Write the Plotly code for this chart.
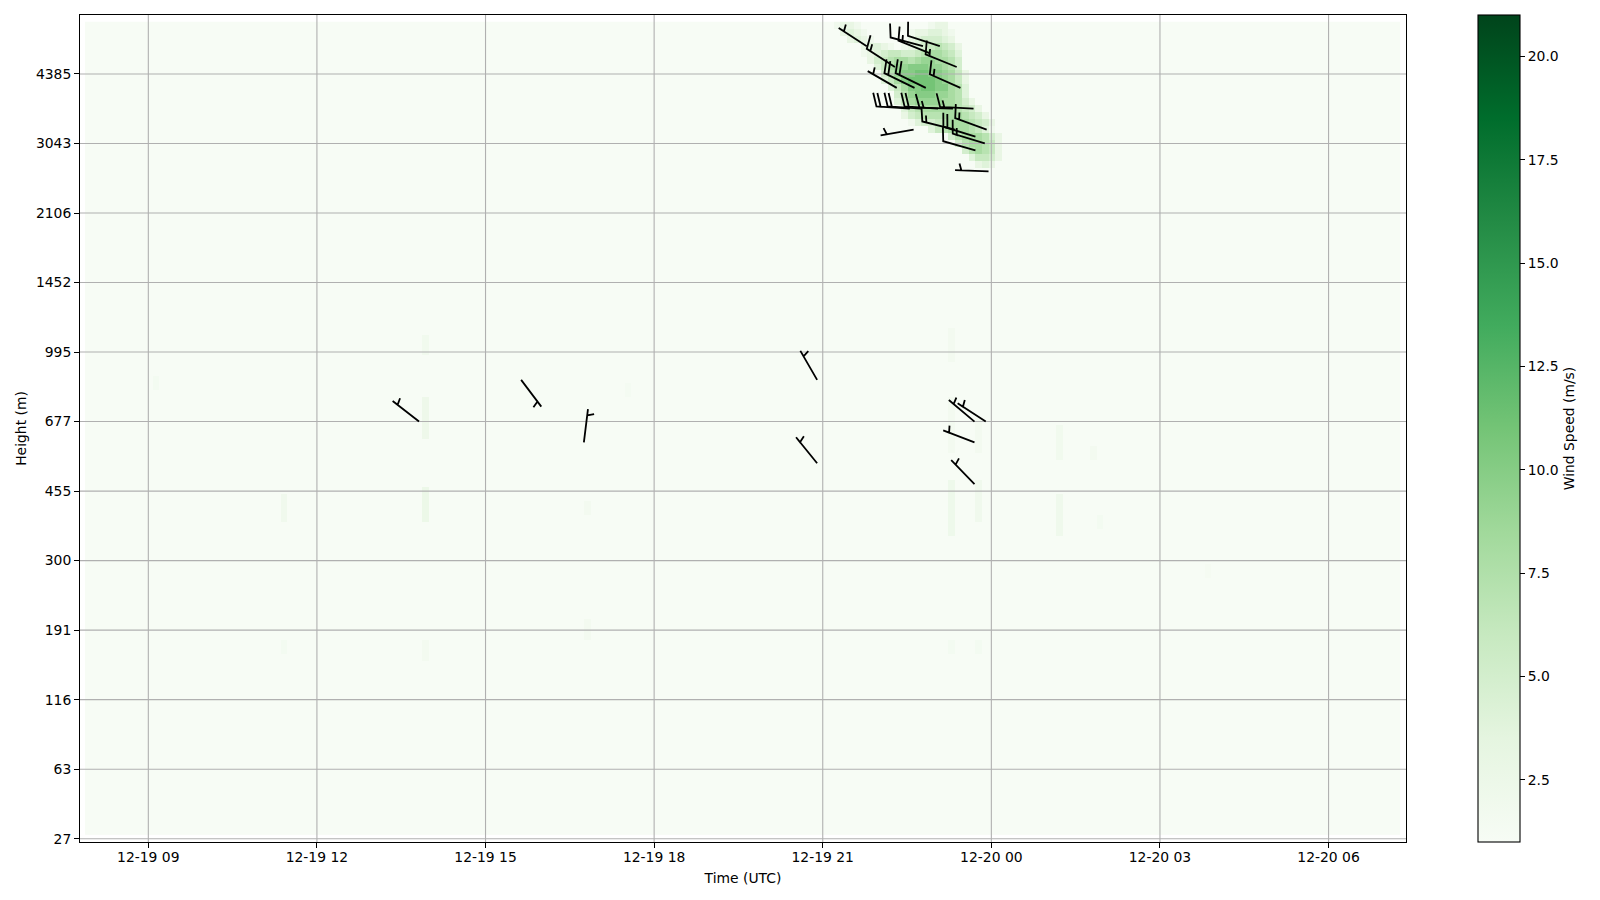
import math
import numpy as np
import pandas as pd
import plotly.graph_objects as go

# ---------------- data ----------------
HEIGHT_TICK_LEVELS = [0, 10, 20, 30, 40, 50, 60, 70, 80, 90, 100, 110]
HEIGHT_TICK_LABELS = ["27", "63", "116", "191", "300", "455", "677", "995",
                      "1452", "2106", "3043", "4385"]
N_LEVELS = 117                      # heatmap rows at levels 1..117
TIME_FIRST = "2023-12-19 07:56:06"  # centre of first heatmap column
TIME_STEP_S = 432                   # 7.2 min columns
N_TIMES = 195

# wind-speed patches: (level, first column, values m/s)
BLOB_ROWS = [
    (117, 111, [2, 3, 3, 2]), (117, 125, [2, 3, 3]),
    (116, 112, [3, 4, 3, 2]), (116, 122, [2, 3, 3, 4, 4, 3, 2]),
    (115, 113, [3, 4, 3, 2]), (115, 122, [3, 4, 5, 5, 5, 4, 3]),
    (114, 115, [3, 4, 4, 3, 2, 0, 2, 3, 4, 5, 6, 7, 6, 5, 3]),
    (113, 115, [2, 3, 4, 5, 6, 6, 5, 5, 6, 7, 8, 8, 7, 6, 4]),
    (112, 116, [3, 5, 6, 7, 8, 8, 7, 8, 9, 9, 8, 8, 7, 5]),
    (111, 117, [4, 6, 8, 9, 9, 10, 10, 10, 9, 9, 8, 7, 5]),
    (110, 118, [5, 7, 9, 10, 10, 11, 11, 10, 10, 9, 8, 6, 3]),
    (109, 118, [4, 6, 8, 10, 11, 11, 11, 11, 10, 9, 8, 6, 3]),
    (108, 119, [4, 6, 8, 10, 10, 11, 11, 10, 10, 8, 7, 4]),
    (107, 120, [5, 7, 9, 10, 10, 10, 9, 9, 8, 7, 4]),
    (106, 120, [4, 6, 8, 9, 9, 9, 9, 8, 8, 7, 5, 3]),
    (105, 121, [4, 6, 7, 8, 8, 8, 8, 8, 7, 6, 5, 3]),
    (104, 121, [3, 5, 6, 7, 7, 7, 8, 8, 8, 7, 6, 5, 3]),
    (103, 122, [2, 4, 5, 5, 6, 7, 8, 8, 8, 7, 6, 5, 3]),
    (102, 125, [4, 6, 7, 8, 8, 8, 7, 6, 4, 2]),
    (101, 128, [5, 7, 8, 8, 8, 7, 5, 3]),
    (100, 129, [5, 7, 8, 8, 7, 6, 3]),
    (99, 130, [5, 7, 8, 7, 6, 3]),
    (98, 131, [4, 6, 6, 5, 3]),
    (97, 132, [3, 4, 3]),
]
# faint vertical streaks: (column, lowest level, highest level, m/s)
STREAKS = [
    (50, 70, 72, 1.8), (50, 58, 63, 2.3), (50, 46, 50, 2.5), (50, 26, 28, 1.6),
    (29, 46, 49, 2.0), (29, 27, 28, 1.5),
    (74, 47, 48, 1.6), (74, 29, 31, 1.6),
    (128, 69, 73, 1.6), (128, 56, 63, 1.6), (128, 44, 51, 2.2), (128, 27, 28, 1.5),
    (132, 56, 60, 1.6), (132, 46, 51, 2.0), (132, 27, 28, 1.5),
    (144, 55, 59, 1.8), (144, 44, 49, 2.1),
    (149, 55, 56, 1.6), (150, 45, 46, 1.5), (10, 65, 66, 1.5), (80, 64, 65, 1.4),
    (166, 38, 39, 1.3),
]

# wind barbs: time, level, direction wind blows from (deg), speed (kt)
BARB_TIMES = [
    "2023-12-19 13:49", "2023-12-19 15:38", "2023-12-19 16:45",
    "2023-12-19 20:54", "2023-12-19 20:54", "2023-12-19 23:42",
    "2023-12-19 23:54", "2023-12-19 23:42", "2023-12-19 23:42",
    "2023-12-19 21:47", "2023-12-19 22:17", "2023-12-19 22:47",
    "2023-12-19 23:05", "2023-12-19 22:54", "2023-12-19 23:23",
    "2023-12-19 22:19", "2023-12-19 22:38", "2023-12-19 22:50",
    "2023-12-19 23:27", "2023-12-19 22:33", "2023-12-19 22:45",
    "2023-12-19 23:03", "2023-12-19 23:19", "2023-12-19 23:41",
    "2023-12-19 23:21", "2023-12-19 23:55", "2023-12-19 23:43",
    "2023-12-19 23:53", "2023-12-19 22:37", "2023-12-19 23:57",
    "2023-12-19 23:43",
]
BARB_LEVELS = [60, 66, 57, 66, 54, 60, 60, 57, 51,
               114, 111, 114, 114, 113, 111, 108, 108, 108, 108,
               105, 105, 105, 105, 105, 102, 102, 101, 100, 102, 96, 99]
BARB_DIR = [308, 143, 7, 330, 321, 310, 303, 291, 316,
            303, 303, 285, 288, 292, 292, 300, 296, 296, 294,
            274, 274, 274, 272, 273, 284, 290, 287, 287, 260, 272, 286]
BARB_KT = [5, 5, 5, 5, 5, 5, 5, 5, 5,
           5, 15, 10, 10, 15, 15, 5, 20, 20, 15,
           20, 20, 20, 15, 15, 15, 15, 20, 15, 5, 5, 10]

COLORBAR_TICKS = [2.5, 5.0, 7.5, 10.0, 12.5, 15.0, 17.5, 20.0]
Z_MIN, Z_MAX = 1.0, 21.0

# ---------------- layout constants ----------------
PAGE_OFFSET = 8                      # default body margin of the html page
W, H = 1600 - PAGE_OFFSET, 900 - PAGE_OFFSET
ML, MR, MT, MB = 80 - PAGE_OFFSET, 194, 15 - PAGE_OFFSET, 58
X_RANGE = ["2023-12-19 07:47:04", "2023-12-20 07:22:40"]
Y_RANGE = [-0.475, 118.48]
FONT = dict(family="DejaVu Sans", size=13.9, color="black")
BARB_LEN_PX = 33.5

GREENS = [[0.0, "#f7fcf5"], [0.125, "#e5f5e0"], [0.25, "#c7e9c0"],
          [0.375, "#a1d99b"], [0.5, "#74c476"], [0.625, "#41ab5d"],
          [0.75, "#238b45"], [0.875, "#006d2c"], [1.0, "#00441b"]]

# ---------------- build grid ----------------
times = pd.date_range(TIME_FIRST, periods=N_TIMES, freq=pd.Timedelta(seconds=TIME_STEP_S))
levels = np.arange(1, N_LEVELS + 1)
z = np.zeros((N_LEVELS, N_TIMES))
for lvl, c0, vals in BLOB_ROWS:
    for i, v in enumerate(vals):
        if v > 0:
            z[lvl - 1, c0 + i] = v
for col, l0, l1, v in STREAKS:
    z[l0 - 1:l1, col] = np.maximum(z[l0 - 1:l1, col], v)

plot_w = W - ML - MR
plot_h = H - MT - MB

fig = go.Figure()
fig.add_trace(go.Heatmap(
    x=times, y=levels, z=z, colorscale=GREENS, zmin=Z_MIN, zmax=Z_MAX,
    zsmooth=False, hoverinfo="skip",
    colorbar=dict(
        x=(1478.3 - 80) / plot_w, xanchor="left", xpad=0,
        y=0.5, yanchor="middle", len=1, lenmode="fraction", ypad=0,
        thickness=42, thicknessmode="pixels",
        outlinewidth=1.1, outlinecolor="black",
        tickvals=COLORBAR_TICKS, ticktext=[f"{v:.1f}" for v in COLORBAR_TICKS],
        ticks="outside", ticklen=4.9, tickwidth=1.1, tickcolor="black",
        tickfont=FONT,
        title=dict(text="Wind Speed (m/s)", side="right", font=FONT),
    ),
))

# ---------------- grid lines (above the mesh) ----------------
x0, x1 = pd.Timestamp(X_RANGE[0]), pd.Timestamp(X_RANGE[1])
gx, gy = [], []
t = pd.Timestamp("2023-12-19 00:00")
while t <= x1:
    if t >= x0:
        gx += [t, t, None]
        gy += [Y_RANGE[0], Y_RANGE[1], None]
    t += pd.Timedelta(hours=3)
for lv in HEIGHT_TICK_LEVELS:
    gx += [x0, x1, None]
    gy += [lv, lv, None]
fig.add_trace(go.Scatter(x=gx, y=gy, mode="lines", hoverinfo="skip",
                         line=dict(color="#b0b0b0", width=1.1), showlegend=False))

# ---------------- wind barbs ----------------
px_per_sec = plot_w / (x1 - x0).total_seconds()
px_per_level = plot_h / (Y_RANGE[1] - Y_RANGE[0])


def barb_path(t, lvl, dir_deg, kt):
    d = math.radians(dir_deg)
    sx, sy = math.sin(d), math.cos(d)       # shaft toward wind origin (y up)
    bx, by = sy, -sx                         # feather side
    L = BARB_LEN_PX
    spacing, fw, bh = 0.125 * L, 0.25 * L, 0.4 * L
    s = 5 * round(kt / 5)
    n_barb = int(s // 10)
    half = (s % 10) >= 5
    pts = [(0.0, 0.0), (L, 0.0)]
    off = L
    for _ in range(n_barb):
        pts += [(off, 0.0), (off + fw / 2, bh), (off, 0.0)]
        off -= spacing
    if half:
        if off == L:
            off -= 1.5 * spacing
            pts.append((off, 0.0))
        pts += [(off, 0.0), (off + fw / 4, bh / 2), (off, 0.0)]
    out_x, out_y = [], []
    for a, b in pts:
        dx = a * sx + b * bx
        dy = a * sy + b * by
        out_x.append((t + pd.Timedelta(seconds=dx / px_per_sec)).to_pydatetime())
        out_y.append(lvl + dy / px_per_level)
    return out_x, out_y


bx_all, by_all = [], []
for ts, lv, dr, kt in zip(BARB_TIMES, BARB_LEVELS, BARB_DIR, BARB_KT):
    px, py = barb_path(pd.Timestamp(ts), lv, dr, kt)
    bx_all += px + [None]
    by_all += py + [None]
fig.add_trace(go.Scatter(x=bx_all, y=by_all, mode="lines", hoverinfo="skip",
                         line=dict(color="black", width=1.8), showlegend=False))

# ---------------- layout ----------------
axis_common = dict(showgrid=False, zeroline=False, showline=True, mirror=True,
                   linecolor="black", linewidth=1.1, ticks="outside",
                   ticklen=4.9, tickwidth=1.1, tickcolor="black", tickfont=FONT,
                   automargin=False)
fig.update_layout(
    width=W, height=H,
    margin=dict(l=ML, r=MR, t=MT, b=MB, autoexpand=False),
    paper_bgcolor="white", plot_bgcolor="white", font=FONT,
    showlegend=False,
    xaxis=dict(axis_common, type="date", range=X_RANGE,
               tick0="2023-12-19 00:00", dtick=3 * 3600 * 1000,
               tickformat="%m-%d %H", ticklabelstandoff=-3,
               title=dict(text="Time (UTC)", font=FONT, standoff=9)),
    yaxis=dict(axis_common, range=Y_RANGE, tickvals=HEIGHT_TICK_LEVELS,
               ticktext=HEIGHT_TICK_LABELS, ticklabelstandoff=0,
               title=dict(text="Height (m)", font=FONT, standoff=6)),
)

fig.write_html("out.html", config={"displayModeBar": False})
